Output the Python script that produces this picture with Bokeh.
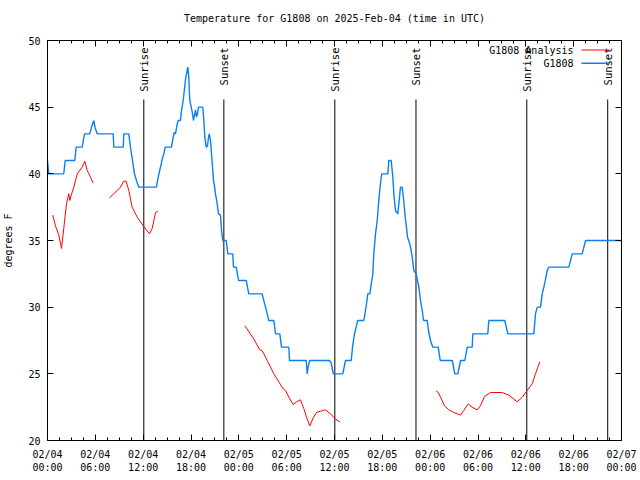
import numpy as np
from bokeh.plotting import figure
from bokeh.models import (Range1d, LinearAxis, FixedTicker, Label, BoxAnnotation, ColumnDataSource,
                          CustomLabelingPolicy)
from bokeh.embed import file_html
from bokeh.resources import INLINE
from bokeh.core.properties import value

# ---- data (hours since 2025-02-04 00:00 UTC, degrees F) ----
obs_hours = [0.0, 0.16, 2.04, 2.22, 3.42, 3.60, 4.35, 4.64, 5.31, 5.52, 5.81, 5.96, 6.23, 8.24, 8.32, 9.50, 9.57,
             10.20, 10.41, 10.66, 10.91, 11.16, 11.45, 13.67, 13.84, 14.01, 14.21, 14.39, 14.59, 14.76, 15.55, 15.72,
             15.89, 16.06, 16.22, 16.39, 16.68, 16.81, 17.02, 17.19, 17.35, 17.52, 17.60, 17.72, 17.85, 18.03, 18.19,
             18.31, 18.44, 18.57, 18.69, 18.82, 18.94, 19.48, 19.61, 19.73, 19.91, 20.07, 20.20, 20.28, 20.45, 20.57,
             20.70, 20.82, 20.95, 21.07, 21.29, 21.45, 21.70, 21.83, 21.99, 22.42, 22.62, 23.24, 23.33, 23.67, 23.96,
             24.93, 25.09, 25.25, 26.93, 27.13, 27.35, 27.56, 27.76, 28.39, 28.60, 29.14, 29.35, 30.27, 30.36, 32.45,
             32.58, 32.68, 32.90, 35.37, 35.59, 35.84, 37.04, 37.38, 38.10, 38.26, 38.51, 38.92, 39.68, 39.89, 40.18,
             40.43, 40.61, 40.81, 40.93, 41.14, 41.36, 41.52, 41.65, 41.81, 41.93, 42.69, 42.81, 43.11, 43.32, 43.44,
             43.65, 43.94, 44.28, 44.49, 44.69, 44.87, 45.03, 45.16, 45.32, 45.54, 45.75, 45.95, 46.25, 46.58, 46.79,
             47.00, 47.17, 47.63, 47.79, 48.04, 48.33, 49.01, 49.26, 50.77, 51.09, 51.47, 51.81, 52.35, 52.65, 53.27,
             53.35, 55.23, 55.36, 57.36, 57.74, 61.00, 61.21, 61.43, 61.84, 62.06, 62.26, 62.47, 62.68, 62.88, 65.39,
             65.82, 67.07, 67.49, 72.0]
obs_temp = [41, 40, 40, 41, 41, 42, 42, 43, 43, 43.5, 44, 43.5, 43, 43, 42, 42, 43,
            43, 42, 41, 40, 39.5, 39, 39, 39.6, 40.1, 40.6, 41.1, 41.5, 42, 42, 42.6,
            43.1, 43, 43.6, 44, 44, 44.75, 45.5, 46.4, 47.25, 47.75, 48, 47.25, 45.5, 45, 44.5,
            44, 44.4, 44.8, 44.25, 44.5, 45, 45, 44, 42.75, 42, 42.1, 42.75, 43, 42.5, 41.5,
            40.5, 39.5, 39.1, 38.5, 37.75, 37, 36.9, 35.75, 35, 35, 34, 34, 33, 33, 32,
            32, 31.5, 31, 31, 30.5, 30, 29.5, 29, 29, 28, 28, 27, 27, 26, 26,
            25, 25.5, 26, 26, 25.8, 25, 25, 26, 26, 27, 28, 29, 29, 29.75, 31,
            31, 31.75, 32.5, 34, 35.5, 36.5, 37.75, 38.6, 39.5, 40, 40, 41, 41, 39.75, 38.5,
            37.25, 37, 39, 39, 38, 36.75, 36, 35.25, 35, 34.5, 33.75, 32.75, 32.5, 31.5, 30.5,
            29.75, 29, 29, 28.25, 27.5, 27, 27, 26, 26, 25, 25, 26, 26, 27, 27,
            28, 28, 29, 29, 28, 28, 29.5, 30, 30, 31, 31.5, 32.1, 32.75, 33, 33,
            34, 34, 35, 35]

ana1_hours = [0.66, 1.00, 1.42, 1.76, 2.04, 2.38, 2.67, 2.80, 2.97, 3.30, 3.73, 4.35, 4.68, 4.98, 5.39, 5.73]
ana1_temp = [36.9, 36.1, 35.4, 34.4, 35.9, 37.75, 38.5, 38.0, 38.4, 39.0, 40.0, 40.5, 40.95, 40.25, 39.75, 39.3]
ana2_hours = [7.78, 8.74, 9.16, 9.57, 9.87, 10.20, 10.62, 11.25, 11.67, 12.08, 12.79, 13.13, 13.55, 13.84]
ana2_temp = [38.2, 38.75, 39.0, 39.45, 39.45, 38.75, 37.5, 36.75, 36.4, 36.05, 35.5, 35.9, 37.1, 37.2]
ana3_hours = [24.75, 25.05, 25.88, 26.63, 26.97, 27.56, 28.39, 29.02, 29.52, 29.86, 30.27, 30.82, 31.23, 31.74,
              32.15, 32.49, 32.90, 33.33, 33.74, 34.24, 34.87, 35.50, 36.13, 36.67]
ana3_temp = [28.6, 28.35, 27.6, 26.8, 26.7, 26.0, 25.0, 24.4, 23.9, 23.75, 23.25, 22.7, 22.9, 23.05,
             22.4, 21.75, 21.1, 21.7, 22.1, 22.2, 22.3, 22.0, 21.6, 21.4]
ana4_hours = [48.76, 49.01, 49.30, 49.80, 50.34, 50.96, 51.81, 52.22, 52.77, 53.27, 53.90, 54.31, 54.82, 55.57,
              57.04, 57.87, 58.92, 59.55, 60.17, 60.80, 61.21, 61.75]
ana4_temp = [23.7, 23.6, 23.25, 22.6, 22.3, 22.1, 21.9, 22.25, 22.75, 22.5, 22.3, 22.6, 23.3, 23.6,
             23.6, 23.4, 22.9, 23.25, 23.75, 24.25, 25.0, 25.9]

sun_hours = [12.08, 22.12, 36.04, 46.22, 60.12, 70.27]
sun_labels = ["Sunrise", "Sunset", "Sunrise", "Sunset", "Sunrise", "Sunset"]

x_ticks = [0, 6, 12, 18, 24, 30, 36, 42, 48, 54, 60, 66, 72]
x_tick_labels = ["02/04\n00:00", "02/04\n06:00", "02/04\n12:00", "02/04\n18:00",
                 "02/05\n00:00", "02/05\n06:00", "02/05\n12:00", "02/05\n18:00",
                 "02/06\n00:00", "02/06\n06:00", "02/06\n12:00", "02/06\n18:00", "02/07\n00:00"]
y_ticks = [20, 25, 30, 35, 40, 45, 50]

legend_labels = ["G1808 Analysis", "G1808"]

# ---- styles ----
FONT = "DejaVu Sans Mono"
FS = "10px"
RED = "#ff0000"
BLUE = "#0a80f0"
X0, X1, Y0, Y1 = 0, 72, 20, 50
FW, FH = 574, 400

p = figure(frame_width=FW, frame_height=FH, x_range=Range1d(X0, X1), y_range=Range1d(Y0, Y1),
           output_backend="svg", toolbar_location=None,
           min_border_left=47, min_border_right=11, min_border_top=40, min_border_bottom=30,
           title="Temperature for G1808 on 2025-Feb-04 (time in UTC)")
p.title.align = "center"
p.title.text_font = FONT
p.title.text_font_size = FS
p.title.text_font_style = "normal"
p.title.text_color = "black"
p.title.standoff = 11
p.grid.visible = False
p.outline_line_color = "black"
p.background_fill_color = "white"
p.border_fill_color = "white"

minor_x = [t + k * 1.5 for t in x_ticks[:-1] for k in (1, 2, 3)]

def style_axis(ax):
    ax.axis_line_color = "black"
    ax.major_tick_line_color = "black"
    ax.minor_tick_line_color = "black"
    ax.major_tick_in = 6
    ax.major_tick_out = 0
    ax.minor_tick_in = 3
    ax.minor_tick_out = 0
    ax.major_label_text_font = FONT
    ax.major_label_text_font_size = FS
    ax.major_label_text_color = "black"
    ax.axis_label_text_font = FONT
    ax.axis_label_text_font_size = FS
    ax.axis_label_text_font_style = "normal"
    ax.axis_label_text_color = "black"

xa = p.xaxis[0]
xa.ticker = FixedTicker(ticks=x_ticks, minor_ticks=minor_x)
xa.major_label_overrides = {t: l for t, l in zip(x_ticks, x_tick_labels)}
style_axis(xa)
xa.major_label_standoff = 8

ya = p.yaxis[0]
ya.ticker = FixedTicker(ticks=y_ticks, minor_ticks=[])
ya.axis_label = "degrees F"
style_axis(ya)
ya.major_label_standoff = 7
ya.axis_label_standoff = 11

hide_all = "for (const i of indices) indices.unset(i); return indices"

top = LinearAxis(ticker=FixedTicker(ticks=x_ticks, minor_ticks=minor_x),
                 major_label_policy=CustomLabelingPolicy(code=hide_all))
style_axis(top)
top.major_label_standoff = 0
p.add_layout(top, "above")

right = LinearAxis(ticker=FixedTicker(ticks=y_ticks, minor_ticks=[]),
                   major_label_policy=CustomLabelingPolicy(code=hide_all))
style_axis(right)
right.major_label_standoff = 0
p.add_layout(right, "right")

# sunrise / sunset markers
sun_src = ColumnDataSource(dict(x=sun_hours, txt=sun_labels, y0=[Y0] * len(sun_hours),
                                ytop=[Y1] * len(sun_hours)))
px_y = FH / (Y1 - Y0)
px_x = FW / (X1 - X0)
line_top = Y1 - 59 / px_y
p.segment(x0="x", y0="y0", x1="x", y1=line_top, source=sun_src, line_color="black", line_width=1)
p.text(x="x", y="ytop", text="txt", source=sun_src, angle=np.pi / 2, text_align="right",
       text_baseline="middle", y_offset=7, text_font=value(FONT), text_font_size="10.5px",
       text_color="black")

# analysis (red, with gaps)
ana_x = ana1_hours + [np.nan] + ana2_hours + [np.nan] + ana3_hours + [np.nan] + ana4_hours
ana_y = ana1_temp + [np.nan] + ana2_temp + [np.nan] + ana3_temp + [np.nan] + ana4_temp
p.line(ana_x, ana_y, line_color=RED, line_width=1)
# observations (blue)
p.line(obs_hours, obs_temp, line_color=BLUE, line_width=1.4)

# legend (gnuplot style: text right-aligned, sample to the right)
for i, (lbl, col, lw) in enumerate(zip(legend_labels, [RED, BLUE], [1, 1.5])):
    yc_px = 9.5 + 13.3 * i
    p.add_layout(Label(x=X1, y=Y1, x_offset=-48, y_offset=-yc_px, text=lbl, text_align="right",
                       text_baseline="middle", text_font=FONT, text_font_size=FS, text_color="black"))
    yc = Y1 - yc_px / px_y
    p.add_layout(BoxAnnotation(left=X1 - 40 / px_x, right=X1 - 12 / px_x,
                               bottom=yc - lw / 2 / px_y, top=yc + lw / 2 / px_y,
                               fill_color=col, fill_alpha=1, line_alpha=0))

open("out.html", "w").write(file_html(p, INLINE))
